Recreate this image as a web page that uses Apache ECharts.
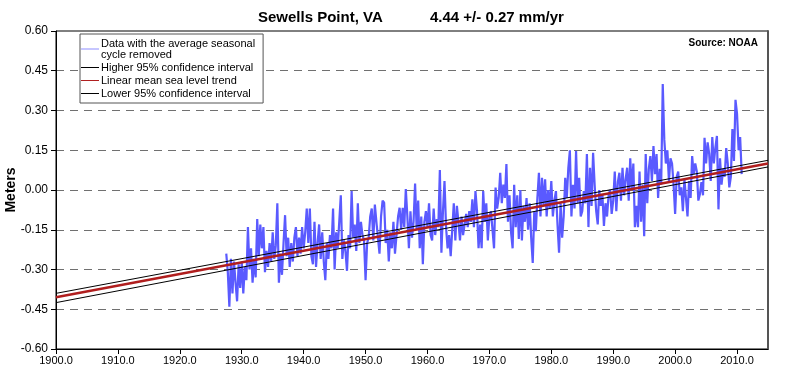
<!DOCTYPE html>
<html>
<head>
<meta charset="utf-8">
<script src="https://cdn.jsdelivr.net/npm/echarts@6/dist/echarts.min.js"></script>
<style>
html,body{margin:0;padding:0;background:#fff;}
#chart{width:790px;height:374px;}
</style>
</head>
<body>
<div id="chart"></div>
<script>
// ---- data ----
var titleLeft = 'Sewells Point, VA';
var titleRight = '4.44 +/- 0.27 mm/yr';
var sourceText = 'Source: NOAA';
var yAxisName = 'Meters';
var seriesNames = ['Data with the average seasonal\ncycle removed', 'Higher 95% confidence interval', 'Linear mean sea level trend', 'Lower 95% confidence interval'];
var xTicks = [1900, 1910, 1920, 1930, 1940, 1950, 1960, 1970, 1980, 1990, 2000, 2010];

var startYear = 1927.5;   // first observation
var stepYear = 0.25;      // spacing of observations
var seaLevel = [
  -0.24, -0.31,
  -0.44, -0.26, -0.39, -0.27,
  -0.35, -0.42, -0.28, -0.37,
  -0.27, -0.39, -0.29, -0.34,
  -0.14, -0.30, -0.22, -0.35,
  -0.26, -0.33, -0.11, -0.25,
  -0.13, -0.22, -0.14, -0.31,
  -0.23, -0.29, -0.20, -0.27,
  -0.16, -0.26, -0.21, -0.05,
  -0.35, -0.24, -0.32, -0.20,
  -0.095, -0.25, -0.18, -0.29,
  -0.20, -0.27, -0.18, -0.14,
  -0.25, -0.18, -0.24, -0.14,
  -0.22, -0.16, -0.07, -0.20,
  -0.07, -0.25, -0.28, -0.12,
  -0.29, -0.20, -0.13, -0.26,
  -0.16, -0.27, -0.34, -0.20,
  -0.26, -0.17, -0.22, -0.07,
  -0.30, -0.16, -0.22, -0.12,
  -0.02, -0.26, -0.19, -0.23,
  -0.305, -0.17, -0.22, -0.004,
  -0.18, -0.13, -0.23, -0.05,
  -0.20, -0.12, -0.17, -0.19,
  -0.34, -0.20, -0.18, -0.10,
  -0.07, -0.19, -0.055, -0.12,
  -0.18, -0.24, -0.10, -0.04,
  -0.048, -0.20, -0.15, -0.27,
  -0.16, -0.22, -0.12, -0.24,
  -0.17, -0.10, -0.067, -0.15,
  -0.067, -0.14, 0.004, -0.10,
  -0.22, -0.08, -0.18, -0.12,
  0.024, -0.15, -0.04, -0.22,
  -0.10, -0.28, -0.12, -0.08,
  -0.14, -0.05, -0.17, -0.19,
  -0.07, -0.17, -0.11, -0.14,
  0.075, -0.237, -0.08, 0.034,
  -0.14, -0.22, -0.17, -0.25,
  -0.25, -0.05, -0.19, -0.06,
  -0.12, -0.19, -0.10, -0.17,
  -0.13, -0.09, -0.14, -0.08,
  -0.12, -0.035, -0.14, -0.004,
  -0.08, -0.22, -0.13, -0.22,
  -0.004, -0.12, -0.05, -0.19,
  -0.10, -0.08, -0.15, -0.22,
  0.009, -0.07, -0.03, 0.065,
  -0.05, 0.02, -0.03, 0.098,
  -0.12, -0.02, -0.16, -0.22,
  0.02, -0.14, -0.02, -0.185,
  0.0, -0.19, -0.06, -0.12,
  -0.03, -0.15, -0.05, -0.18,
  -0.275, -0.08, -0.155, -0.03,
  0.065, -0.10, 0.046, -0.06,
  0.04, -0.10, 0.0, -0.07,
  0.034, -0.10, -0.04, -0.004,
  -0.13, -0.237, -0.05, -0.18,
  -0.10, 0.046, -0.03, 0.084,
  0.15, -0.10, 0.02, -0.07,
  0.147, -0.05, 0.046, -0.10,
  -0.08, -0.004, -0.05, 0.136,
  -0.14, 0.084, -0.06, 0.14,
  0.02, -0.08, -0.13, 0.0,
  -0.06, -0.015, -0.136, -0.05,
  -0.10, -0.02, 0.0, -0.09,
  -0.04, 0.07, -0.08, 0.03,
  0.065, -0.04, 0.084, -0.02,
  0.04, 0.084, -0.04, 0.12,
  0.0, 0.10, -0.14, -0.06,
  -0.14, 0.07, -0.12, 0.02,
  -0.174, 0.136, -0.05, 0.08,
  0.128, 0.034, 0.166, 0.06,
  0.136, -0.03, 0.08, 0.02,
  0.40, 0.19, 0.10, 0.15,
  0.034, 0.12, 0.10, 0.02,
  -0.09, 0.05, 0.07, -0.02,
  0.01, -0.08, 0.04, -0.03,
  -0.10, 0.034, -0.03, 0.128,
  0.06, 0.10, 0.07, -0.04,
  -0.016, 0.03, -0.02, 0.197,
  0.10, 0.18, 0.136, 0.034,
  0.20, 0.10, 0.16, 0.204,
  -0.073, 0.12, 0.02, 0.08,
  0.05, 0.158, 0.10, 0.01,
  0.05, 0.23, 0.11, 0.34,
  0.287, 0.15, 0.20, 0.06
];

var trendYears = [1900, 2015];
var trendMean  = [-0.405, 0.100];
var trendHigh  = [-0.390, 0.112];
var trendLow   = [-0.425, 0.087];

var xMin = 1900, xMax = 2015, xStep = 10;
var yMin = -0.60, yMax = 0.60, yStep = 0.15;

// ---- build ----
var obs = seaLevel.map(function (v, i) { return [startYear + i * stepYear, v]; });
function pairs(ys) { return trendYears.map(function (x, i) { return [x, ys[i]]; }); }

var chart = echarts.init(document.getElementById('chart'), null, {renderer: 'canvas'});
var font = 'Arial, "Liberation Sans", sans-serif';

chart.setOption({
  animation: false,
  backgroundColor: '#fff',
  textStyle: {fontFamily: font},
  title: [
    {text: titleLeft, left: 253, top: 5, textStyle: {fontSize: 15, fontWeight: 'bold', color: '#000', fontFamily: font}},
    {text: titleRight, left: 425, top: 5, textStyle: {fontSize: 15, fontWeight: 'bold', color: '#000', fontFamily: font}},
    {text: sourceText, right: 27, top: 33, textStyle: {fontSize: 10, fontWeight: 'bold', color: '#000', fontFamily: font}}
  ],
  graphic: [{
    type: 'text', x: 11, y: 190, rotation: Math.PI / 2, z: 10,
    style: {text: yAxisName, font: 'bold 14px Arial, "Liberation Sans", sans-serif', fill: '#000',
      align: 'center', verticalAlign: 'middle'}
  }],
  legend: {
    left: 80, top: 34, orient: 'vertical',
    backgroundColor: '#fff', borderColor: '#555', borderWidth: 1,
    padding: [4, 8, 4, 1],
    itemWidth: 18, itemHeight: 1, itemGap: 2,
    icon: 'rect',
    textStyle: {fontSize: 11, lineHeight: 11, color: '#000', fontFamily: font, padding: [0, 0, 0, -3]},
    data: [
      {name: seriesNames[0], itemStyle: {color: '#8c8cff'}},
      {name: seriesNames[1], itemStyle: {color: '#000'}},
      {name: seriesNames[2], itemStyle: {color: '#b02020'}},
      {name: seriesNames[3], itemStyle: {color: '#000'}}
    ]
  },
  grid: {left: 56, right: 22, top: 31, bottom: 25, show: true, borderColor: '#000', borderWidth: 1,
    backgroundColor: '#fff', containLabel: false, outerBoundsMode: 'none'},
  xAxis: {
    type: 'value', min: xMin, max: xMax, interval: xStep,
    axisLine: {onZero: false, lineStyle: {color: '#000', width: 1}},
    axisTick: {show: true, length: 5, customValues: xTicks, lineStyle: {color: '#000'}},
    axisLabel: {fontSize: 11, color: '#000', margin: 6, fontFamily: font, customValues: xTicks,
      formatter: function (v) { return v.toFixed(1); }},
    splitLine: {show: false}
  },
  yAxis: [{
    type: 'value', min: yMin, max: yMax, interval: yStep,
    axisLine: {show: true, onZero: false, lineStyle: {color: '#000', width: 1}},
    axisTick: {show: true, length: 5, lineStyle: {color: '#000'}},
    axisLabel: {fontSize: 12, color: '#000', margin: 8, fontFamily: font,
      formatter: function (v) { return v.toFixed(2); }},
    splitLine: {show: true, showMinLine: false, showMaxLine: false,
      lineStyle: {color: '#707070', width: 1, type: [8, 6]}}
  }, {
    type: 'value', min: yMin, max: yMax, position: 'right',
    axisLine: {show: true, onZero: false, lineStyle: {color: '#555', width: 2}},
    axisTick: {show: false}, axisLabel: {show: false}, splitLine: {show: false}
  }],
  series: [
    {name: seriesNames[0], type: 'line', data: obs, showSymbol: false, symbol: 'none',
      lineStyle: {color: '#5a5aff', width: 2.2}, itemStyle: {color: '#5a5aff'}, z: 2},
    {name: seriesNames[1], type: 'line', data: pairs(trendHigh), showSymbol: false, symbol: 'none',
      lineStyle: {color: '#000', width: 1}, itemStyle: {color: '#000'}, z: 3},
    {name: seriesNames[2], type: 'line', data: pairs(trendMean), showSymbol: false, symbol: 'none',
      lineStyle: {color: '#b01e1e', width: 2.5}, itemStyle: {color: '#b01e1e'}, z: 4},
    {name: seriesNames[3], type: 'line', data: pairs(trendLow), showSymbol: false, symbol: 'none',
      lineStyle: {color: '#000', width: 1}, itemStyle: {color: '#000'}, z: 3}
  ]
});
</script>
</body>
</html>
